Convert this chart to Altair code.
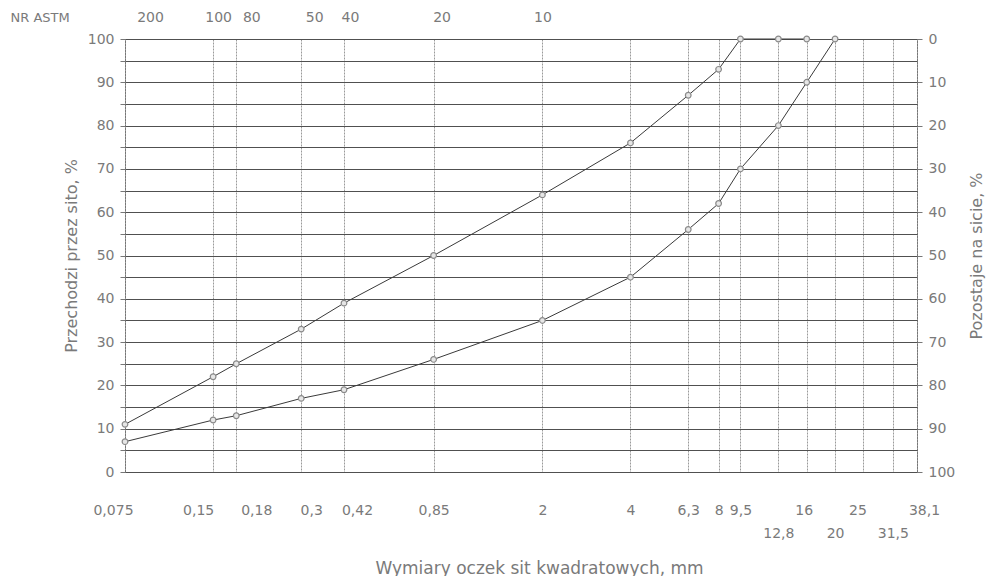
import altair as alt
import pandas as pd

# Sieve sizes (mm) and axis labels
sieve_mm = [0.075, 0.15, 0.18, 0.3, 0.42, 0.85, 2, 4, 6.3, 8, 9.5, 12.8, 16, 20, 25, 31.5, 38.1]
sieve_lbl = ["0,075", "0,15", "0,18", "0,3", "0,42", "0,85", "2", "4", "6,3", "8", "9,5",
             "12,8", "16", "20", "25", "31,5", "38,1"]
second_row = [12.8, 20, 31.5]
astm_mm = [0.075, 0.15, 0.18, 0.3, 0.42, 0.85, 2]
astm_lbl = ["200", "100", "80", "50", "40", "20", "10"]

# Grading curves (% passing)
curve_mm = [0.075, 0.15, 0.18, 0.3, 0.42, 0.85, 2, 4, 6.3, 8, 9.5, 12.8, 16, 20]
upper = [11, 22, 25, 33, 39, 50, 64, 76, 87, 93, 100, 100, 100, None]
lower = [7, 12, 13, 17, 19, 26, 35, 45, 56, 62, 70, 80, 90, 100]

# label nudges (px, along the axis) as placed in the original sheet
bottom_nudge = {0.075: -12, 0.15: -15, 0.18: 20, 0.3: 10, 0.42: 13, 16: -3, 25: -6, 38.1: 7}
top_nudge = {0.075: 25, 0.15: 5, 0.18: 15, 0.3: 13, 0.42: 6, 0.85: 8}

rows = []
for s, u, l in zip(curve_mm, upper, lower):
    if u is not None:
        rows.append({"size": s, "pct": u, "series": "górna"})
    rows.append({"size": s, "pct": l, "series": "dolna"})
df = pd.DataFrame(rows)

FONT = "DejaVu Sans"
TXT = "#7a7a7a"
LBL = 14

xscale = alt.Scale(type="log", domain=[sieve_mm[0], sieve_mm[-1]], nice=False)
yscale = alt.Scale(domain=[0, 100], nice=False)


def lookup_expr(vals, labels, blank=()):
    v = "[" + ",".join(repr(float(x)) for x in vals) + "]"
    lb = "[" + ",".join("'" + ('' if vals[i] in blank else labels[i]) + "'" for i in range(len(vals))) + "]"
    return f"{lb}[indexof({v}, datum.value)]"


def nudge(d):
    return {
        "condition": [{"test": f"abs(datum.value - {float(k)}) < 1e-9", "value": v} for k, v in d.items()],
        "value": 0,
    }


row1_axis = alt.Axis(
    orient="bottom", values=sieve_mm, labelExpr=lookup_expr(sieve_mm, sieve_lbl, blank=second_row),
    grid=True, gridColor="#9a9a9a", gridDash=[2, 1], gridWidth=1,
    domain=False, ticks=False, labelPadding=31, labelFontSize=LBL, labelColor=TXT,
    labelFont=FONT, labelOverlap=False, labelFlush=False, title=None,
    labelOffset=nudge(bottom_nudge),
)
row2_axis = alt.Axis(
    orient="bottom", values=second_row, labelExpr=lookup_expr(sieve_mm, sieve_lbl),
    grid=False, domain=False, ticks=False, labelPadding=54, labelFontSize=LBL,
    labelColor=TXT, labelFont=FONT, labelOverlap=False, labelFlush=False,
    title="Wymiary oczek sit kwadratowych, mm", titleFont=FONT, titleFontSize=17,
    titleFontWeight="normal", titleColor=TXT, titlePadding=20, titleX=414, titleAnchor="middle",
)
top_axis = alt.Axis(
    orient="top", values=astm_mm, labelExpr=lookup_expr(astm_mm, astm_lbl),
    grid=False, domain=False, ticks=False, labelPadding=15, labelFontSize=LBL,
    labelColor=TXT, labelFont=FONT, labelOverlap=False, labelFlush=False,
    labelOffset=nudge(top_nudge),
    title="NR ASTM", titleFont=FONT, titleFontSize=13, titleFontWeight="normal",
    titleColor=TXT, titleX=-115, titleY=-22, titleAlign="left", titleBaseline="middle",
    titleAnchor="start",
)
left_axis = alt.Axis(
    orient="left", values=list(range(0, 101, 5)),
    labelExpr="datum.value % 10 == 0 ? datum.label : ''",
    grid=True, gridColor="#505050", gridWidth=1, domain=False,
    ticks=True, tickSize=5, tickColor="#777", labelPadding=6, labelFontSize=LBL,
    labelColor=TXT, labelFont=FONT,
    title="Przechodzi przez sito, %", titleFont=FONT, titleFontSize=16,
    titleFontWeight="normal", titleColor=TXT, titlePadding=8,
)
right_axis = alt.Axis(
    orient="right", values=list(range(0, 101, 10)),
    labelExpr="100 - datum.value",
    grid=False, domain=False, ticks=True, tickSize=5, tickColor="#777",
    labelPadding=6, labelFontSize=LBL, labelColor=TXT, labelFont=FONT,
    title="Pozostaje na sicie, %", titleFont=FONT, titleFontSize=16,
    titleFontWeight="normal", titleColor=TXT, titlePadding=30, titleAngle=270,
)

base = alt.Chart(df)

lines = base.mark_line(color="#3a3a3a", strokeWidth=1).encode(
    x=alt.X("size:Q", scale=xscale, axis=row1_axis),
    y=alt.Y("pct:Q", scale=yscale, axis=left_axis),
    detail="series:N",
)
points = base.mark_point(shape="circle", filled=True, fill="#e6e6e6", stroke="#8a8a8a",
                         strokeWidth=1.2, size=32, opacity=1).encode(
    x=alt.X("size:Q", scale=xscale, axis=row2_axis),
    y=alt.Y("pct:Q", scale=yscale, axis=right_axis),
    detail="series:N",
)
ghost = base.mark_point(opacity=0).encode(
    x=alt.X("size:Q", scale=xscale, axis=top_axis),
    y=alt.Y("pct:Q", scale=yscale, axis=None),
)

chart = alt.layer(lines, points, ghost).resolve_axis(
    x="independent", y="independent"
).properties(
    width=792, height=433,
    autosize=alt.AutoSizeParams(type="none"),
    padding={"left": 117, "top": 31, "right": 72, "bottom": 104},
    background="white",
).configure_view(stroke="#555", strokeWidth=1)

chart.save("out.html", embed_options={"renderer": "svg", "actions": False})
